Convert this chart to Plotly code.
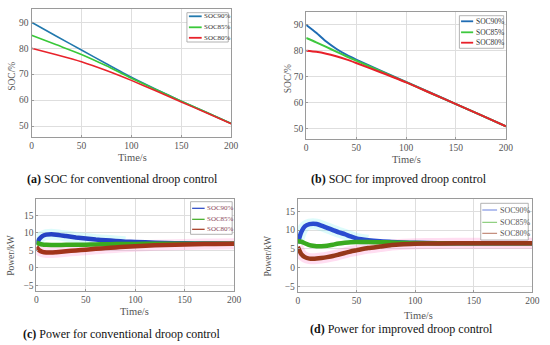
import plotly.graph_objects as go

W, H = 550, 345

series_names = ["SOC90%", "SOC85%", "SOC80%"]
captions = [("(a)", " SOC for conventional droop control"),
            ("(b)", " SOC for improved droop control"),
            ("(c)", " Power for conventional droop control"),
            ("(d)", " Power for improved droop control")]
x_ticks = [0, 50, 100, 150, 200]
soc_ticks = [50, 60, 70, 80, 90]
pow_ticks = [-5, 0, 5, 10, 15]

# (a) SOC, conventional droop
t_a = [0, 25, 50, 75, 100, 125, 150, 175, 200]
soc_a_90 = [90, 84.6, 79.3, 74.0, 68.8, 64.1, 59.6, 55.3, 51.0]
soc_a_85 = [85, 81.3, 77.6, 73.2, 68.4, 64.0, 59.6, 55.3, 51.0]
soc_a_80 = [80, 77.5, 74.8, 71.4, 67.6, 63.5, 59.3, 55.1, 50.9]

# (b) SOC, improved droop
t_b = [0, 10, 20, 30, 40, 50, 75, 100, 125, 150, 175, 200]
soc_b_90 = [90, 87.0, 83.6, 80.8, 78.5, 76.6, 72.2, 68.0, 63.7, 59.4, 55.1, 50.8]
soc_b_85 = [85, 83.3, 81.5, 79.7, 77.9, 76.2, 72.0, 67.9, 63.6, 59.4, 55.1, 50.8]
soc_b_80 = [80, 79.6, 78.9, 77.9, 76.7, 75.3, 71.6, 67.8, 63.6, 59.4, 55.1, 50.8]

# (c) Power, conventional droop
t_c = [0, 3, 6, 10, 15, 20, 30, 40, 50, 60, 70, 80, 90, 100, 120, 140, 160, 180, 200]
p_c_90 = [6.8, 8.3, 9.1, 9.5, 9.6, 9.5, 9.1, 8.7, 8.4, 8.1, 7.9, 7.7, 7.5, 7.4, 7.2, 7.05, 7.0, 6.95, 6.9]
p_c_85 = [7.2, 6.9, 6.7, 6.6, 6.55, 6.55, 6.6, 6.6, 6.65, 6.7, 6.75, 6.8, 6.8, 6.85, 6.9, 6.9, 6.9, 6.9, 6.9]
p_c_80 = [6.0, 5.0, 4.6, 4.4, 4.4, 4.5, 4.75, 5.0, 5.2, 5.45, 5.65, 5.85, 6.05, 6.2, 6.45, 6.65, 6.75, 6.85, 6.9]

# (d) Power, improved droop
t_d = [0, 3, 6, 10, 13, 16, 20, 25, 30, 35, 40, 45, 50, 60, 70, 80, 90, 100, 120, 150, 200]
p_d_90 = [6.5, 9.5, 11.0, 11.6, 11.7, 11.6, 11.2, 10.6, 10.0, 9.4, 8.9, 8.3, 7.8, 7.3, 7.0, 6.85, 6.7, 6.6, 6.5, 6.5, 6.5]
p_d_85 = [7.0, 6.9, 6.5, 6.0, 5.8, 5.7, 5.7, 5.8, 6.1, 6.4, 6.6, 6.75, 6.8, 6.8, 6.75, 6.7, 6.6, 6.55, 6.5, 6.5, 6.5]
p_d_80 = [5.5, 3.6, 2.8, 2.4, 2.35, 2.4, 2.55, 2.8, 3.1, 3.5, 3.9, 4.3, 4.6, 5.2, 5.6, 6.0, 6.2, 6.35, 6.45, 6.5, 6.5]

FONT = "Liberation Serif"
TICKC = "#555555"


def px(x):
    return x / W


def py(y):
    return 1 - y / H


fig = go.Figure()

# axes boxes in pixels: (left, right, top, bottom)
boxes = {
    1: (30, 233, 9, 136.7),
    2: (309.3, 512.3, 12.3, 139),
    3: (35, 236, 199.3, 291),
    4: (300.7, 539.3, 199.3, 292),
}
yranges = {1: [45.9, 95.1], 2: [45.9, 94.9], 3: [-6.6, 19.6], 4: [-6.5, 18.2]}
yticks = {1: soc_ticks, 2: soc_ticks, 3: pow_ticks, 4: pow_ticks}

layout = dict(width=W, height=H, margin=dict(l=0, r=0, t=0, b=0),
              paper_bgcolor="white", plot_bgcolor="white", showlegend=False,
              font=dict(family=FONT, color="#333"))
for i, (l, r, t, b) in boxes.items():
    sfx = "" if i == 1 else str(i)
    common = dict(showgrid=True, gridcolor="#dedede", gridwidth=1, zeroline=False,
                  showline=True, linecolor="#9a9a9a", linewidth=1, mirror=True,
                  ticks="inside", ticklen=2, tickcolor="#9a9a9a",
                  tickfont=dict(family=FONT, size=9.5, color=TICKC))
    layout["xaxis" + sfx] = dict(domain=[px(l), px(r)], range=[0, 200], tickvals=x_ticks,
                                 anchor="y" + sfx, **common)
    layout["yaxis" + sfx] = dict(domain=[py(b), py(t)], range=yranges[i], tickvals=yticks[i],
                                 anchor="x" + sfx, **common)
fig.update_layout(**layout)


def add(x, y, ax, color, width, opacity=1.0):
    sfx = "" if ax == 1 else str(ax)
    fig.add_trace(go.Scatter(x=x, y=y, mode="lines", xaxis="x" + sfx, yaxis="y" + sfx,
                             line=dict(color=color, width=width, shape="spline", smoothing=0.6),
                             opacity=opacity, hoverinfo="skip"))


# (a)
cols_a = ["#2279ad", "#39c839", "#e8232b"]
for y, c in zip([soc_a_90, soc_a_85, soc_a_80], cols_a):
    add(t_a, y, 1, c, 1.6)
# (b)
cols_b = ["#1f6cb3", "#3ec83e", "#e8202a"]
for y, c in zip([soc_b_90, soc_b_85, soc_b_80], cols_b):
    add(t_b, y, 2, c, 2.0)

# (c) glow + bands
add(t_c, p_c_80, 3, "rgba(255,120,200,1)", 11, 0.22)
add(t_c[:13], p_c_90[:13], 3, "rgba(120,240,240,1)", 11, 0.25)
cols_c = ["#2442c4", "#3aaa1e", "#a2341a"]
for y, c in zip([p_c_90, p_c_85, p_c_80], cols_c):
    add(t_c, y, 3, c, 4.5)

# (d) glow + bands
add(t_d, p_d_80, 4, "rgba(255,120,200,1)", 11, 0.25)
add(t_d[:14], p_d_90[:14], 4, "rgba(120,240,240,1)", 11, 0.25)
cols_d = ["#2a4cd0", "#3aaa20", "#96381a"]
for y, c in zip([p_d_90, p_d_85, p_d_80], cols_d):
    add(t_d, y, 4, c, 4.5)

shapes = []
annotations = []

# manual compact legends (pixel layout)
legends = [
    ((188, 12.7, 230, 42), [16.3, 27.3, 37.8], 190, 203, 203.5, 7, "#333", 1.8, cols_a),
    ((465, 15.7, 510, 48.3), [21.3, 32.3, 42.7], 466.7, 479, 479.5, 7.5, "#333", 1.8, cols_b),
    ((191.7, 201.7, 234, 234.3), [208.3, 219.3, 229.3], 193.3, 206, 206, 7, "#8a4a5a", 1.2, cols_c),
    ((486.7, 203.3, 535, 240), [210, 222.3, 233.3], 488.3, 503.3, 504, 8, "#555", 0.7, cols_d),
]
for (bl, bt, br, bb), ys, lx0, lx1, tx, fs, tc, lw, cols in legends:
    shapes.append(dict(type="rect", xref="paper", yref="paper", x0=px(bl), x1=px(br),
                       y0=py(bb), y1=py(bt), line=dict(color="#a0a0a0", width=0.8),
                       fillcolor="white", layer="above"))
    for yy, name, c in zip(ys, series_names, cols):
        shapes.append(dict(type="line", xref="paper", yref="paper", x0=px(lx0), x1=px(lx1),
                           y0=py(yy), y1=py(yy), line=dict(color=c, width=lw), layer="above"))
        annotations.append(dict(text=name, xref="paper", yref="paper", x=px(tx), y=py(yy),
                                xanchor="left", yanchor="middle", showarrow=False,
                                font=dict(family=FONT, size=fs, color=tc)))

# axis titles
axis_titles = [
    ("SOC/%", 10, 76, -90, 9.5), ("Time/s", 133, 157, 0, 10.5),
    ("SOC/%", 291, 79, -90, 9.5), ("Time/s", 411.7, 159, 0, 10.5),
    ("Power/kW", 9, 255, -90, 9.5), ("Time/s", 135, 311.5, 0, 10.5),
    ("Power/kW", 270, 256, -90, 9.5), ("Time/s", 423, 315.5, 0, 10.5),
]
for txt, x, y, ang, fs in axis_titles:
    annotations.append(dict(text=txt, xref="paper", yref="paper", x=px(x), y=py(y),
                            xanchor="center", yanchor="middle", showarrow=False, textangle=ang,
                            font=dict(family=FONT, size=fs, color=TICKC)))

# captions
cap_pos = [(122, 179.3), (403.5, 179.3), (122.5, 334), (406, 329)]
for (lab, rest), (x, y) in zip(captions, cap_pos):
    annotations.append(dict(text="<b>" + lab + "</b>" + rest, xref="paper", yref="paper",
                            x=px(x), y=py(y), xanchor="center", yanchor="middle", showarrow=False,
                            font=dict(family=FONT, size=12, color="#111")))

fig.update_layout(shapes=shapes, annotations=annotations)
fig.write_html("out.html", config={"displayModeBar": False},
               post_script="document.body.style.margin='0';document.body.style.padding='0';")
